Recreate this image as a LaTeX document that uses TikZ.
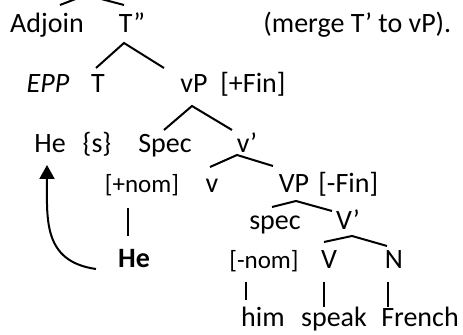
\documentclass[tikz,border=0pt]{standalone}
\usepackage{fontspec}
\setmainfont{Carlito}
\usetikzlibrary{arrows.meta}

\begin{document}
\begin{tikzpicture}[
  x=0.5pt, y=-0.5pt,
  every node/.style={font=\fontsize{14}{16}\selectfont, inner sep=0pt, anchor=base},
  feat/.style={font=\fontsize{12.5}{15}\selectfont},
  branch/.style={line width=1pt},
  mvarr/.style={-{Triangle[length=7pt,width=7.5pt]}, line width=1pt},
]
\clip (0,0) rectangle (463,335);

% row 1
\coordinate (root) at (86,-5);
\node (adjoin) at (47,33)  {Adjoin};
\node (Tdd)    at (132,33) {T”};
\node[anchor=base west] (note) at (263,33) {(merge T’ to vP).};

% row 2
\node (epp) at (48,93)  {\itshape EPP};
\node (T)   at (98,93)  {T};
\node (vP)  at (194,93) {vP};
\node[anchor=base west] (finA) at (220,93) {[+Fin]};

% row 3
\node (heA)  at (50,153)  {He};
\node (s)    at (97,153)  {\{s\}};
\node (Spec) at (165,153) {Spec};
\node (vbar) at (247,153) {v’};

% row 4
\node[feat] (nomA) at (142,193) {[+nom]};
\node (v)  at (212,193) {v};
\node (VP) at (294,193) {VP};
\node[anchor=base west] (finB) at (318,193) {[-Fin]};

% row 5
\node (spec) at (275,230) {spec};
\node (Vbar) at (348,230) {V’};

% row 6
\node (heB)  at (134,268) {\bfseries He};
\node[feat] (nomB) at (264,269) {[-nom]};
\node (V)    at (329,269) {V};
\node (N)    at (394,269) {N};

% row 7
\node (him)    at (263,327) {him};
\node (speak)  at (334,327) {speak};
\node (french) at (420,327) {French};

% branches
\draw[branch] ([shift={(13,-28)}]adjoin.base) -- (root) -- ([shift={(-8,-28)}]Tdd.base);
\draw[branch] ([shift={(-2,-25)}]T.base) -- ([shift={(-8,10)}]Tdd.base) -- ([shift={(-30,-25)}]vP.base);
\draw[branch] ([shift={(-1,-23)}]Spec.base) -- ([shift={(-2,13)}]vP.base) -- ([shift={(-15,-23)}]vbar.base);
\draw[branch] ([shift={(-2,-26)}]v.base) -- ([shift={(-10,2)}]vbar.base) -- ([shift={(-21,-27)}]VP.base);
\draw[branch] ([shift={(-3,-23)}]spec.base) -- ([shift={(2,8)}]VP.base) -- ([shift={(-16,-19)}]Vbar.base);
\draw[branch] ([shift={(-5,-27)}]V.base) -- ([shift={(4,6)}]Vbar.base) -- ([shift={(-7,-23)}]N.base);

% unary lines
\draw[branch] ([shift={(-14,15)}]nomA.base) -- ([shift={(-6,-32)}]heB.base);
\draw[branch] ([shift={(-18,13)}]nomB.base) -- ([shift={(-17,-27)}]him.base);
\draw[branch] ([shift={(-5,13)}]V.base)     -- ([shift={(-10,-20)}]speak.base);
\draw[branch] ([shift={(-6,13)}]N.base)     -- ([shift={(-32,-20)}]french.base);

% movement
\draw[mvarr] ([shift={(-38,1)}]heB.base) to[out=172, in=-90, looseness=1.2] ([shift={(-3,12)}]heA.base);

\end{tikzpicture}
\end{document}
